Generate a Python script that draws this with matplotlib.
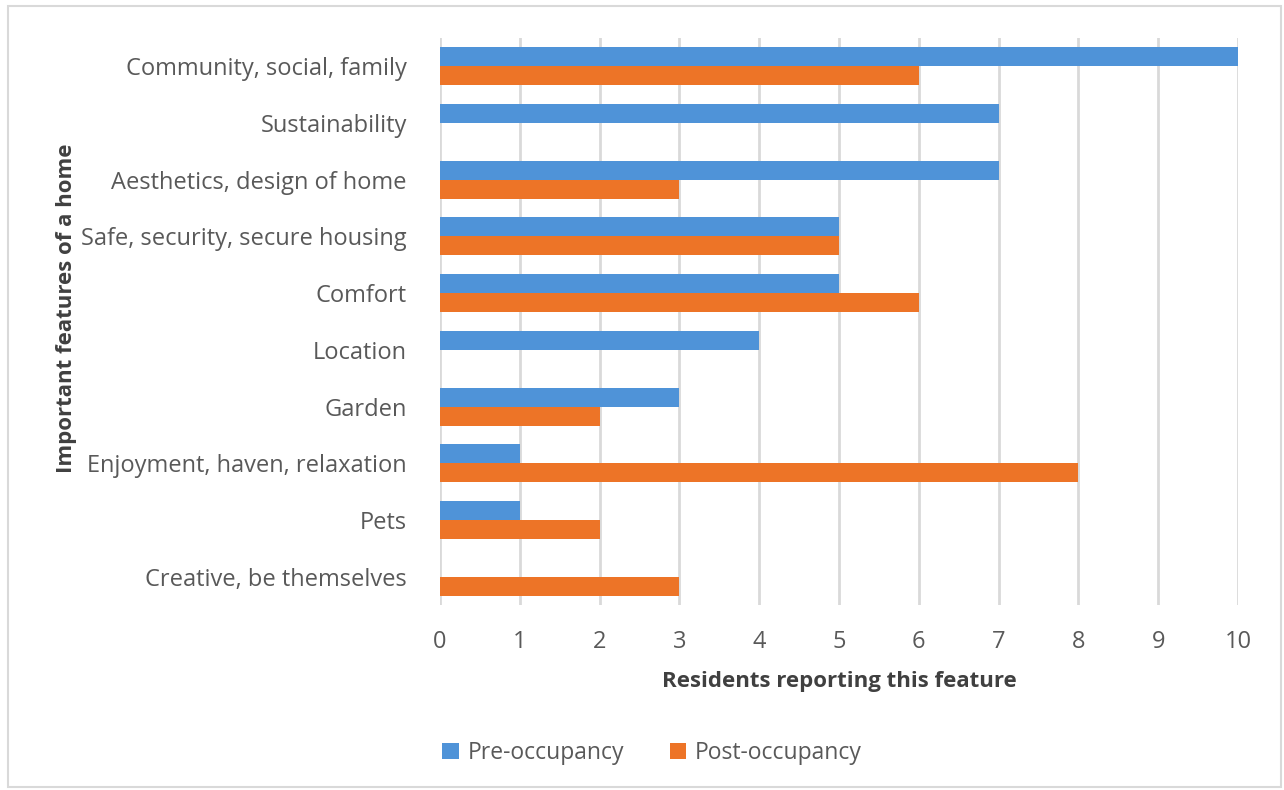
import numpy as np
import matplotlib.pyplot as plt
from matplotlib.patches import Rectangle

features = ["Community, social, family", "Sustainability", "Aesthetics, design of home",
            "Safe, security, secure housing", "Comfort", "Location", "Garden",
            "Enjoyment, haven, relaxation", "Pets", "Creative, be themselves"]
pre = [10, 7, 7, 5, 5, 4, 3, 1, 1, 0]
post = [6, 0, 3, 5, 6, 0, 2, 8, 2, 3]
xticks = list(range(0, 11))

plt.rcParams['font.family'] = ['Open Sans', 'DejaVu Sans']

fig = plt.figure(figsize=(12.84, 7.90), dpi=100)
ax = fig.add_axes([0.3427, 0.234, 0.6215, 0.718])

y = np.arange(len(features))
h = 0.335
ax.barh(y - h/2, pre, height=h, color='#4F93D8', linewidth=0,
        label='Pre-occupancy', zorder=3)
ax.barh(y + h/2, post, height=h, color='#ED7427', linewidth=0,
        label='Post-occupancy', zorder=3)

ax.set_ylim(len(features) - 0.5, -0.5)
ax.set_xlim(0, 10)
ax.set_xticks(xticks)
ax.set_yticks(y)
ax.set_yticklabels(features)
ax.tick_params(axis='y', length=0, pad=24, labelsize=17, labelcolor='#595959')
ax.tick_params(axis='x', length=0, pad=18, labelsize=17, labelcolor='#595959')
ax.grid(axis='x', color='#D9D9D9', linewidth=2, zorder=0)
for s in ax.spines.values():
    s.set_visible(False)

ax.set_xlabel('Residents reporting this feature', fontsize=16, fontweight='bold',
              color='#404040', labelpad=12)
ax.set_ylabel('Important features of a home', fontsize=16, fontweight='bold',
              color='#404040')
ax.yaxis.set_label_coords(-0.455, 0.524)

fig.legend(loc='center', bbox_to_anchor=(0.508, 0.047), ncol=2, frameon=False,
           fontsize=16.5, labelcolor='#595959', handlelength=0.7, handleheight=0.7,
           columnspacing=2.0, handletextpad=0.4)

fig.patches.append(Rectangle((0.006, 0.004), 0.992, 0.988, transform=fig.transFigure,
                             fill=False, edgecolor='#D9D9D9', linewidth=1.5))

fig.savefig('out.png', dpi=100)
